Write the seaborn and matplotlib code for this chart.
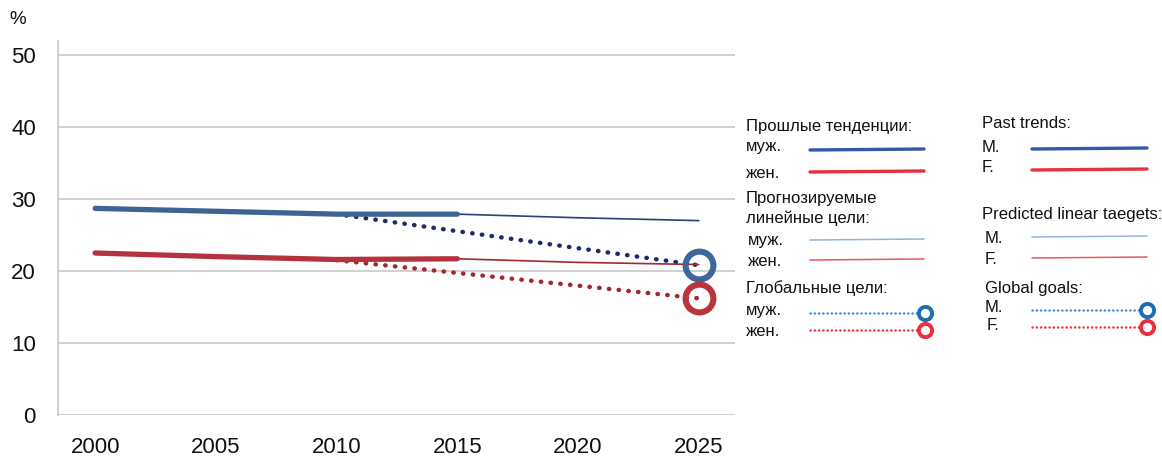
import matplotlib
matplotlib.use("Agg")
import matplotlib.pyplot as plt
from matplotlib.lines import Line2D
import seaborn as sns
import pandas as pd

# ---- data ----
past_years = [2000, 2005, 2010, 2015]
past_male = [28.7, 28.3, 27.9, 27.9]
past_female = [22.5, 22.0, 21.6, 21.7]

pred_years = [2015, 2020, 2025]
pred_male = [27.9, 27.4, 27.0]
pred_female = [21.7, 21.2, 20.9]

goal_years = [2010, 2025]
goal_male = [27.9, 20.8]
goal_female = [21.5, 16.2]

x_ticks = [2000, 2005, 2010, 2015, 2020, 2025]
y_ticks = [0, 10, 20, 30, 40, 50]

sns.set_theme(style="white")
plt.rcParams['font.family'] = ['Liberation Sans', 'DejaVu Sans']

fig = plt.figure(figsize=(11.62, 4.61), dpi=100)
ax = fig.add_axes([0.0499, 0.0998, 0.5826, 0.812])

C_M_THICK = "#3e6494"
C_F_THICK = "#b3323b"
C_M_THIN = "#2b3f7c"
C_F_THIN = "#a32b2e"
C_M_DOT = "#1f2b68"
C_F_DOT = "#a5262b"

past = pd.DataFrame({"year": past_years, "m": past_male, "f": past_female})
pred = pd.DataFrame({"year": pred_years, "m": pred_male, "f": pred_female})
goal = pd.DataFrame({"year": goal_years, "m": goal_male, "f": goal_female})

# goal dotted lines
for col, c in [("m", C_M_DOT), ("f", C_F_DOT)]:
    sns.lineplot(data=goal, x="year", y=col, ax=ax, color=c, lw=3.2,
                 linestyle=(0, (0.1, 2.1)), dash_capstyle="round", zorder=2)
# predicted thin lines
for col, c in [("m", C_M_THIN), ("f", C_F_THIN)]:
    sns.lineplot(data=pred, x="year", y=col, ax=ax, color=c, lw=1.2, zorder=3)
# past thick lines
for col, c in [("m", C_M_THICK), ("f", C_F_THICK)]:
    sns.lineplot(data=past, x="year", y=col, ax=ax, color=c, lw=3.8,
                 solid_capstyle="round", zorder=4)
# goal end circles
ax.plot([goal_years[-1]], [goal_male[-1]], marker="o", ms=20, mfc="none",
        mec="#40679c", mew=4.4, zorder=5)
ax.plot([goal_years[-1]], [goal_female[-1]], marker="o", ms=20, mfc="none",
        mec="#b8353c", mew=4.4, zorder=5)

ax.set_xlim(1998.46, 2026.5)
ax.set_ylim(0, 52)
ax.set_xticks(x_ticks)
ax.set_yticks(y_ticks)
ax.set_xlabel("")
ax.set_ylabel("")
ax.grid(axis="y", color="#c8c8c8", lw=1.2)
ax.grid(axis="x", visible=False)
for s in ["top", "right", "bottom"]:
    ax.spines[s].set_visible(False)
ax.spines["left"].set_color("#c8c8c8")
ax.spines["left"].set_linewidth(1.2)
ax.tick_params(axis="x", length=0, pad=16, labelsize=16, colors="#111111")
ax.tick_params(axis="y", length=0, pad=16, labelsize=16, colors="#111111")
ax.set_axisbelow(True)

fig.text(18 / 1162, 1 - 20 / 461, "%", fontsize=13.5, va="center", ha="center", color="#111111")

# ---- custom legend (figure coordinates) ----
W, H = 1162.0, 461.0
def T(x, y, s, **kw):
    fig.text(x / W, 1 - y / H, s, fontsize=12, va="center", ha="left",
             color="#111111", **kw)

def L(x0, x1, y0, y1, **kw):
    fig.add_artist(Line2D([x0 / W, x1 / W], [1 - y0 / H, 1 - y1 / H],
                          transform=fig.transFigure, **kw))

def ring(x, y, c):
    fig.add_artist(Line2D([x / W], [1 - y / H], transform=fig.transFigure,
                          marker="o", ms=9.5, mfc="white", mec=c, mew=2.8))

BLUE = "#2f5ba8"; RED = "#e2333e"
LBLUE = "#8db6e0"; LRED = "#f0555d"
DBLUE = "#4a8fd4"; DRED = "#ec3a45"
RBLUE = "#1e6cb3"; RRED = "#e8303c"

# left (Russian)
T(746, 127, "Прошлые тенденции:")
T(746, 147, "муж."); L(810, 924, 150, 149, color=BLUE, lw=2.4)
T(746, 173, "жен."); L(810, 924, 172, 171, color=RED, lw=2.4)
T(746, 198, "Прогнозируемые")
T(746, 218, "линейные цели:")
T(748, 240, "муж."); L(810, 924, 240, 239, color=LBLUE, lw=1.1)
T(748, 261, "жен."); L(810, 924, 260, 259, color=LRED, lw=1.1)
T(746, 288, "Глобальные цели:")
T(746, 310, "муж."); L(810, 920, 313, 313, color=DBLUE, lw=1.8,
                         linestyle=(0, (0.1, 1.6)), dash_capstyle="round")
ring(925, 313, RBLUE)
T(746, 331, "жен."); L(810, 920, 330, 330, color=DRED, lw=1.8,
                         linestyle=(0, (0.1, 1.6)), dash_capstyle="round")
ring(925, 330, RRED)

# right (English)
T(982, 124, "Past trends:")
T(982, 147, "M."); L(1032, 1147, 149, 148, color=BLUE, lw=2.4)
T(982, 168, "F."); L(1032, 1147, 170, 169, color=RED, lw=2.4)
T(982, 215, "Predicted linear taegets:")
T(985, 238, "M."); L(1032, 1147, 237, 236, color=LBLUE, lw=1.1)
T(985, 259, "F."); L(1032, 1147, 258, 257, color=LRED, lw=1.1)
T(985, 288, "Global goals:")
T(985, 307, "M."); L(1032, 1142, 310, 310, color=DBLUE, lw=1.8,
                       linestyle=(0, (0.1, 1.6)), dash_capstyle="round")
ring(1147, 310, RBLUE)
T(987, 326, "F."); L(1032, 1142, 327, 327, color=DRED, lw=1.8,
                       linestyle=(0, (0.1, 1.6)), dash_capstyle="round")
ring(1147, 327, RRED)

fig.savefig("out.png", dpi=100)
